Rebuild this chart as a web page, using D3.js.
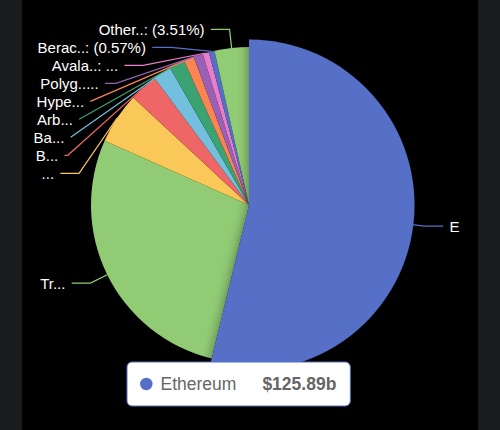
<!DOCTYPE html>
<html>
<head>
<meta charset="utf-8">
<script src="https://cdn.jsdelivr.net/npm/d3@7/dist/d3.min.js"></script>
<style>
  html, body { margin: 0; padding: 0; background: #1b1c20; }
  #chart { width: 500px; height: 430px; }
  text { font-family: "Liberation Sans", Arial, Helvetica, sans-serif; }
</style>
</head>
<body>
<div id="chart"></div>
<script>
// stablecoin market cap by chain, $b
const chains = ["Ethereum", "Tron", "Solana", "BSC", "Base", "Arbitrum", "Hyperliquid", "Polygon", "Avalanche", "Berachain", "Others"]
const values = [125.89, 65.2, 12.3, 6.8, 4.36, 3.75, 2.41, 2.27, 1.5, 1.34, 8.21]
// labels as they are shown (truncated to fit)
const shownLabels = ["E", "Tr...", "...", "B...", "Ba...", "Arb...", "Hype...", "Polyg.....", "Avala..: ...", "Berac..: (0.57%)", "Other..: (3.51%)"]
const colors = ["#5470c6", "#91cc75", "#fac858", "#ee6666", "#73c0de", "#3ba272", "#fc8452", "#9a60b4", "#ea7ccc", "#5470c6", "#91cc75"]
const hovered = 0

const width = 500
const height = 430
const cx = 249
const cy = 205
const radius = 158
const hoverRadius = 165.5

const labelLen = 18.75
const labelLen2 = 18.75
const labelGap = 6.25
const labelHeight = 18
const lineR = radius + labelLen
// shifted labels sit on a slightly tighter curve
const shiftedR = lineR - 4

const svg = d3.select("#chart").append("svg")
    .attr("width", width)
    .attr("height", height)

// black plot panel between the dark side strips
svg.append("rect")
    .attr("x", 22)
    .attr("y", 0)
    .attr("width", 456)
    .attr("height", height)
    .attr("fill", "#000")

svg.append("defs").append("filter")
    .attr("id", "hoverShadow")
    .attr("x", "-30%").attr("y", "-30%")
    .attr("width", "160%").attr("height", "160%")
    .append("feDropShadow")
    .attr("dx", 0)
    .attr("dy", 0)
    .attr("stdDeviation", 6)
    .attr("flood-color", "#000")
    .attr("flood-opacity", 0.45)

const data = chains.map((name, i) => ({name, value: values[i], label: shownLabels[i], color: colors[i]}))
const arcs = d3.pie().sort(null).value(d => d.value)(data)

const arc = d3.arc().innerRadius(0).outerRadius(radius)
const hoverArc = d3.arc().innerRadius(0).outerRadius(hoverRadius)

const pieG = svg.append("g").attr("transform", `translate(${cx},${cy})`)

pieG.selectAll("path.slice")
    .data(arcs.filter(a => a.index !== hovered))
    .join("path")
    .attr("class", "slice")
    .attr("d", arc)
    .attr("fill", a => a.data.color)

pieG.append("path")
    .datum(arcs[hovered])
    .attr("d", hoverArc)
    .attr("fill", a => a.data.color)
    .attr("filter", "url(#hoverShadow)")

// ---- label layout (outside labels, pushed apart, aligned on an ellipse)
const items = arcs.map(a => {
    const mid = (a.startAngle + a.endAngle) / 2
    const nx = Math.sin(mid)
    const ny = -Math.cos(mid)
    return {
        arc: a, nx, ny,
        dir: nx < 0 ? -1 : 1,
        p1: [nx * radius, ny * radius],
        x2: nx * lineR,
        y: ny * lineR
    }
})

function layoutSide(list) {
    list.sort((a, b) => a.y - b.y)
    let shifted = false
    for (let i = 1; i < list.length; i++) {
        const minY = list[i - 1].y + labelHeight
        if (list[i].y < minY) {
            list[i].y = minY
            shifted = true
        }
    }
    if (!shifted) return

    const semis = [list.filter(d => d.y <= 0), list.filter(d => d.y > 0)]
    semis.forEach(semi => {
        if (!semi.length) return
        const far = semi.reduce((m, d) => Math.abs(d.y) > Math.abs(m.y) ? d : m)
        const fdx = far.x2
        const fdy = Math.abs(far.y)
        const rB = Math.abs(fdx) < lineR
            ? Math.sqrt(fdy * fdy / (1 - fdx * fdx / (lineR * lineR)))
            : lineR
        semi.forEach(d => {
            const dy = Math.abs(d.y)
            const rA = d === far ? lineR : shiftedR
            d.x2 = d.dir * Math.sqrt(Math.max(0, 1 - dy * dy / (rB * rB))) * rA
        })
    })
}

layoutSide(items.filter(d => d.dir < 0))
layoutSide(items.filter(d => d.dir > 0))

// keep the first segment from cutting into the pie
function limitSurfaceAngle(d) {
    const p0 = d.p1, p1 = d.p2, p2 = d.p3
    const v1 = [p1[0] - p0[0], p1[1] - p0[1]]
    const v2 = [p2[0] - p1[0], p2[1] - p1[1]]
    const l1 = Math.hypot(v1[0], v1[1])
    const l2 = Math.hypot(v2[0], v2[1])
    if (l1 < 1e-3 || l2 < 1e-3) return
    const u1 = [v1[0] / l1, v1[1] / l1]
    const u2 = [v2[0] / l2, v2[1] / l2]
    if (u1[0] * d.nx + u1[1] * d.ny >= 0) return

    const s = (p0[0] - p1[0]) * u2[0] + (p0[1] - p1[1]) * u2[1]
    let proj = [p1[0] + u2[0] * s, p1[1] + u2[1] * s]
    const dist = Math.hypot(p0[0] - proj[0], p0[1] - proj[1])
    const angle2 = Math.acos(u2[0] * d.nx + u2[1] * d.ny)
    if (angle2 >= Math.PI / 2) {
        proj = p2.slice()
    } else {
        const k = dist / Math.tan(Math.PI / 2 - angle2)
        proj = [proj[0] + u2[0] * k, proj[1] + u2[1] * k]
        const t = (proj[0] - p1[0]) / (p2[0] - p1[0])
        if (t < 0) proj = p1.slice()
        else if (t > 1) proj = p2.slice()
    }
    d.p2 = proj
}

items.forEach(d => {
    d.p2 = [d.x2, d.y]
    d.p3 = [d.x2 + d.dir * labelLen2, d.y]
    limitSurfaceAngle(d)
})

const labelG = svg.append("g").attr("transform", `translate(${cx},${cy})`)

labelG.selectAll("path.guide")
    .data(items)
    .join("path")
    .attr("class", "guide")
    .attr("d", d => d3.line()([d.p1, d.p2, d.p3]))
    .attr("fill", "none")
    .attr("stroke", d => d.arc.data.color)
    .attr("stroke-width", 1.25)

labelG.selectAll("text.label")
    .data(items)
    .join("text")
    .attr("class", "label")
    .attr("x", d => d.p3[0] + d.dir * labelGap)
    .attr("y", d => d.p3[1])
    .attr("text-anchor", d => d.dir < 0 ? "end" : "start")
    .attr("dominant-baseline", "central")
    .attr("fill", "#fff")
    .attr("font-size", 15)
    .text(d => d.arc.data.label)

// ---- tooltip of the hovered slice
const tipX = 127
const tipY = 362
const tipH = 44
const tip = svg.append("g").attr("transform", `translate(${tipX},${tipY})`)

const tipBox = tip.append("rect")
    .attr("height", tipH)
    .attr("rx", 5)
    .attr("fill", "#fff")
    .attr("stroke", colors[hovered])
    .attr("stroke-width", 1)

tip.append("circle")
    .attr("cx", 19.3)
    .attr("cy", tipH / 2)
    .attr("r", 6.25)
    .attr("fill", colors[hovered])

const tipName = tip.append("text")
    .attr("x", 33.5)
    .attr("y", tipH / 2)
    .attr("dominant-baseline", "central")
    .attr("font-size", 17.5)
    .attr("fill", "#666")
    .text(chains[hovered])

const valueX = 33.5 + tipName.node().getComputedTextLength() + 26
const tipValue = tip.append("text")
    .attr("x", valueX)
    .attr("y", tipH / 2)
    .attr("dominant-baseline", "central")
    .attr("font-size", 17.5)
    .attr("font-weight", "bold")
    .attr("fill", "#666")
    .text(`$${values[hovered].toFixed(2)}b`)

tipBox.attr("width", valueX + tipValue.node().getComputedTextLength() + 14)
</script>
</body>
</html>
